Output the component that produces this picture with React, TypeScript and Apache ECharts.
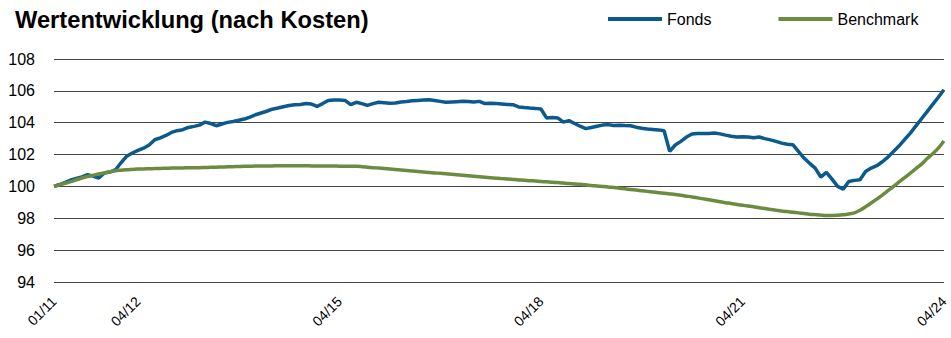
import React, { useEffect, useRef } from "react";
import * as echarts from "echarts";

const TITLE = "Wertentwicklung (nach Kosten)";
const SERIES_NAMES = ["Fonds", "Benchmark"];
const SHOWN_LABELS = ["01/11", "04/12", "04/15", "04/18", "04/21", "04/24"];

// monthly categories 01/11 .. 04/24
const MONTHS: string[] = [];
for (let y = 11; y <= 24; y++) {
  for (let m = 1; m <= 12; m++) {
    if (y === 24 && m > 4) break;
    MONTHS.push(String(m).padStart(2, "0") + "/" + String(y));
  }
}

const FONDS = [
  // 2011
  100.0, 100.12, 100.25, 100.4, 100.5, 100.6, 100.74, 100.65, 100.53, 100.84, 100.9, 101.05,
  // 2012
  101.5, 101.9, 102.1, 102.26, 102.4, 102.6, 102.93, 103.05, 103.2, 103.39, 103.5, 103.56,
  // 2013
  103.7, 103.77, 103.85, 104.04, 103.95, 103.81, 103.92, 104.02, 104.08, 104.15, 104.23, 104.35,
  // 2014
  104.5, 104.61, 104.72, 104.85, 104.92, 105.0, 105.08, 105.13, 105.15, 105.2, 105.17, 105.02,
  // 2015
  105.2, 105.4, 105.42, 105.42, 105.4, 105.13, 105.28, 105.2, 105.09, 105.2, 105.28, 105.25,
  // 2016
  105.22, 105.24, 105.3, 105.33, 105.38, 105.4, 105.42, 105.44, 105.4, 105.34, 105.28, 105.3,
  // 2017
  105.32, 105.34, 105.33, 105.3, 105.34, 105.2, 105.22, 105.2, 105.18, 105.15, 105.13, 104.99,
  // 2018
  104.95, 104.92, 104.9, 104.86, 104.3, 104.32, 104.3, 104.04, 104.13, 103.95, 103.78, 103.63,
  // 2019
  103.7, 103.78, 103.85, 103.88, 103.82, 103.84, 103.82, 103.81, 103.72, 103.65, 103.6, 103.58,
  // 2020
  103.55, 103.5, 102.2, 102.6, 102.83, 103.1, 103.29, 103.32, 103.33, 103.32, 103.35, 103.3,
  // 2021
  103.22, 103.15, 103.1, 103.12, 103.1, 103.05, 103.1, 103.0, 102.92, 102.83, 102.72, 102.65,
  // 2022
  102.62, 102.2, 101.78, 101.45, 101.15, 100.59, 100.88, 100.46, 100.0, 99.83, 100.31, 100.38,
  // 2023
  100.42, 100.94, 101.15, 101.3, 101.55, 101.84, 102.2, 102.55, 102.95, 103.35, 103.8, 104.25,
  // 2024
  104.7, 105.15, 105.6, 106.07,
];

const BENCHMARK = [
  // 2011
  100.0, 100.1, 100.2, 100.3, 100.42, 100.53, 100.62, 100.7, 100.78, 100.85, 100.92, 100.99,
  // 2012
  101.02, 101.05, 101.07, 101.09, 101.1, 101.11, 101.12, 101.13, 101.14, 101.15, 101.16, 101.16,
  // 2013
  101.17, 101.17, 101.18, 101.19, 101.2, 101.21, 101.22, 101.23, 101.24, 101.25, 101.26, 101.27,
  // 2014
  101.28, 101.28, 101.29, 101.29, 101.3, 101.3, 101.3, 101.3, 101.3, 101.3, 101.29, 101.29,
  // 2015
  101.29, 101.28, 101.28, 101.27, 101.27, 101.26, 101.26, 101.24, 101.21, 101.18, 101.15, 101.12,
  // 2016
  101.09, 101.06, 101.03, 101.0, 100.97, 100.94, 100.91, 100.88, 100.85, 100.82, 100.79, 100.76,
  // 2017
  100.73, 100.7, 100.67, 100.64, 100.61, 100.58, 100.55, 100.52, 100.49, 100.47, 100.44, 100.41,
  // 2018
  100.39, 100.36, 100.34, 100.31, 100.29, 100.26, 100.24, 100.21, 100.18, 100.16, 100.13, 100.1,
  // 2019
  100.06, 100.03, 100.0, 99.97, 99.93, 99.89, 99.85, 99.81, 99.77, 99.73, 99.69, 99.65,
  // 2020
  99.61, 99.57, 99.53, 99.49, 99.44, 99.39, 99.34, 99.28, 99.22, 99.16, 99.1, 99.04,
  // 2021
  98.98, 98.93, 98.87, 98.82, 98.77, 98.72, 98.66, 98.61, 98.56, 98.51, 98.46, 98.42,
  // 2022
  98.38, 98.34, 98.3, 98.26, 98.23, 98.2, 98.18, 98.18, 98.19, 98.22, 98.27, 98.34,
  // 2023
  98.5, 98.72, 98.96, 99.2, 99.46, 99.73, 100.0, 100.28, 100.56, 100.84, 101.12, 101.4,
  // 2024
  101.75, 102.05, 102.4, 102.85,
];

const FONT = "'Liberation Sans', Arial, sans-serif";
const BLUE = "#0B5A8D";
const GREEN = "#6B8C3E";

export default function App() {
  const ref = useRef<HTMLDivElement>(null);

  useEffect(() => {
    if (!ref.current) return;
    const chart = echarts.init(ref.current, null, { renderer: "svg" });
    chart.setOption({
      animation: false,
      backgroundColor: "#ffffff",
      textStyle: { fontFamily: FONT },
      title: {
        text: TITLE,
        left: 10,
        top: 3,
        textStyle: { fontFamily: FONT, fontSize: 23.7, fontWeight: "bold", color: "#000" },
      },
      legend: {
        data: SERIES_NAMES.map((n) => ({ name: n, icon: "rect" })),
        left: 608,
        top: 11,
        itemWidth: 54,
        itemHeight: 4,
        itemGap: 67,
        textStyle: { fontFamily: FONT, fontSize: 16, color: "#000" },
        padding: 0,
      },
      grid: { left: 54, right: 2, top: 59, bottom: 56, containLabel: false },
      xAxis: {
        type: "category",
        data: MONTHS,
        boundaryGap: false,
        axisLine: { show: false },
        axisTick: { show: false },
        splitLine: { show: false },
        axisLabel: {
          interval: (idx: number, value: string) => SHOWN_LABELS.includes(value),
          rotate: 45,
          margin: 17,
          fontFamily: FONT,
          fontSize: 14,
          color: "#000",
        },
      },
      yAxis: {
        type: "value",
        min: 94,
        max: 108,
        interval: 2,
        axisLine: { show: false },
        axisTick: { show: false },
        axisLabel: { margin: 19, fontFamily: FONT, fontSize: 16, color: "#000" },
        splitLine: { show: true, lineStyle: { color: "#444", width: 1 } },
      },
      series: [
        {
          name: SERIES_NAMES[0],
          type: "line",
          data: FONDS,
          symbol: "none",
          lineStyle: { color: BLUE, width: 3.5 },
          itemStyle: { color: BLUE },
          z: 3,
        },
        {
          name: SERIES_NAMES[1],
          type: "line",
          data: BENCHMARK,
          symbol: "none",
          smooth: 0.3,
          lineStyle: { color: GREEN, width: 3.5 },
          itemStyle: { color: GREEN },
          z: 4,
        },
      ],
    });
    return () => chart.dispose();
  }, []);

  return (
    <div
      ref={ref}
      style={{ position: "fixed", left: 0, top: 0, width: 951, height: 338 }}
    />
  );
}
